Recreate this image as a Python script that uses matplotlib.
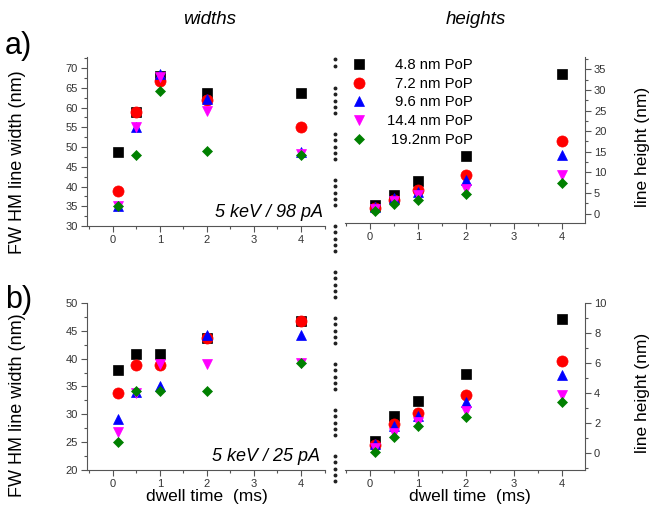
import numpy as np
import matplotlib
matplotlib.use('Agg')
import matplotlib.pyplot as plt
from matplotlib.ticker import MultipleLocator

plt.rcParams['font.family'] = ['Liberation Sans', 'DejaVu Sans']

# dwell time (ms)
dwell = [0.1, 0.5, 1, 2, 4]
labels = ['4.8 nm PoP', '7.2 nm PoP', '9.6 nm PoP', '14.4 nm PoP', '19.2nm PoP']

# a) 5 keV / 98 pA
w98_48 = [48.7, 58.8, 68.0, 63.6, 63.6]
w98_72 = [38.9, 58.8, 66.8, 62.0, 55.0]
w98_96 = [35.0, 55.0, 68.5, 62.2, 48.8]
w98_144 = [35.0, 55.0, 67.8, 59.2, 48.3]
w98_192 = [35.0, 48.0, 64.1, 49.0, 48.0]

h98_48 = [2.0, 4.4, 7.9, 14.0, 33.9]
h98_72 = [1.3, 3.3, 5.8, 9.4, 17.6]
h98_96 = [1.6, 3.8, 5.3, 8.1, 14.1]
h98_144 = [1.2, 3.0, 4.4, 5.9, 9.3]
h98_192 = [0.6, 2.2, 3.3, 4.7, 7.4]

# b) 5 keV / 25 pA
w25_48 = [38.0, 40.9, 40.9, 43.7, 46.8]
w25_72 = [33.8, 38.8, 38.8, 43.7, 46.7]
w25_96 = [29.1, 34.0, 35.0, 44.3, 44.2]
w25_144 = [26.9, 33.9, 39.1, 39.1, 39.2]
w25_192 = [25.0, 34.2, 34.2, 34.2, 39.2]

h25_48 = [0.85, 2.5, 3.5, 5.3, 8.95]
h25_72 = [0.55, 1.95, 2.7, 3.9, 6.15]
h25_96 = [0.6, 1.85, 2.5, 3.4, 5.2]
h25_144 = [0.35, 1.35, 2.1, 2.8, 3.9]
h25_192 = [0.07, 1.1, 1.8, 2.4, 3.4]

styles = [('s', 'black', 7), ('o', 'red', 8), ('^', 'blue', 7),
          ('v', 'magenta', 7), ('D', 'green', 5.5)]
tick_col = '#555555'

fig = plt.figure(figsize=(6.52, 5.14), dpi=100)
W, H = 652, 514


def px_axes(x0, y0, x1, y1):
    return fig.add_axes([x0 / W, 1 - y1 / H, (x1 - x0) / W, (y1 - y0) / H])


def px_text(x, y, s, **kw):
    fig.text(x / W, 1 - y / H, s, ha='center', va='center', **kw)


def style_axes(ax, side):
    for s in ax.spines.values():
        s.set_color(tick_col)
        s.set_linewidth(0.8)
    ax.spines['top'].set_visible(False)
    if side == 'left':
        ax.spines['right'].set_visible(False)
    else:
        ax.spines['left'].set_visible(False)
        ax.yaxis.tick_right()
    ax.tick_params(which='both', direction='out', colors=tick_col,
                   labelcolor='#333333', labelsize=8, width=0.8, pad=2.5)
    ax.tick_params(which='major', length=4)
    ax.tick_params(which='minor', length=2)
    ax.xaxis.set_major_locator(MultipleLocator(1))
    ax.xaxis.set_minor_locator(MultipleLocator(0.5))


def draw(ax, series):
    for ys, (m, c, ms), lab in zip(series, styles, labels):
        ax.plot(dwell, ys, linestyle='none', marker=m, color=c, markersize=ms,
                markeredgecolor=c, markeredgewidth=0.5, label=lab)


ax1 = px_axes(87, 57, 325, 226)
draw(ax1, [w98_48, w98_72, w98_96, w98_144, w98_192])
ax1.set_xlim(-0.55, 4.51)
ax1.set_ylim(30, 72.8)
style_axes(ax1, 'left')
ax1.yaxis.set_major_locator(MultipleLocator(5))
ax1.yaxis.set_minor_locator(MultipleLocator(2.5))
ax1.text(0.99, 0.03, '5 keV / 98 pA', transform=ax1.transAxes, ha='right',
         va='bottom', fontsize=13, style='italic')

ax2 = px_axes(345, 57, 585, 223)
draw(ax2, [h98_48, h98_72, h98_96, h98_144, h98_192])
ax2.set_xlim(-0.52, 4.48)
ax2.set_ylim(-2.3, 38)
style_axes(ax2, 'right')
ax2.yaxis.set_major_locator(MultipleLocator(5))
ax2.yaxis.set_minor_locator(MultipleLocator(2.5))
leg = ax2.legend(loc='upper left', bbox_to_anchor=(-0.03, 1.03), frameon=False,
                 fontsize=10.7, handletextpad=0.9, labelspacing=0.32,
                 borderaxespad=0)
# right-align legend texts like the original
fig.canvas.draw()
rend = fig.canvas.get_renderer()
widths = [t.get_window_extent(rend).width for t in leg.get_texts()]
for t, w in zip(leg.get_texts(), widths):
    t.set_position((max(widths) - w, 0))

ax3 = px_axes(87, 303, 325, 470)
draw(ax3, [w25_48, w25_72, w25_96, w25_144, w25_192])
ax3.set_xlim(-0.55, 4.51)
ax3.set_ylim(20, 50)
style_axes(ax3, 'left')
ax3.yaxis.set_major_locator(MultipleLocator(5))
ax3.yaxis.set_minor_locator(MultipleLocator(2.5))
ax3.text(0.98, 0.03, '5 keV / 25 pA', transform=ax3.transAxes, ha='right',
         va='bottom', fontsize=13, style='italic')

ax4 = px_axes(345, 303, 585, 470)
draw(ax4, [h25_48, h25_72, h25_96, h25_144, h25_192])
ax4.set_xlim(-0.52, 4.48)
ax4.set_ylim(-1.1, 10)
style_axes(ax4, 'right')
ax4.yaxis.set_major_locator(MultipleLocator(2))
ax4.yaxis.set_minor_locator(MultipleLocator(1))

# axis titles
px_text(18, 162, 'FW HM line width (nm)', fontsize=13, rotation=90)
px_text(18, 405, 'FW HM line width (nm)', fontsize=13, rotation=90)
px_text(642, 147, 'line height (nm)', fontsize=12.5, rotation=90)
px_text(642, 393, 'line height (nm)', fontsize=12.5, rotation=90)
px_text(207, 497, 'dwell time  (ms)', fontsize=12.5)
px_text(470, 497, 'dwell time  (ms)', fontsize=12.5)

# dotted separator between the columns
dots_y = [59, 66]
for start in np.arange(88, 500, 46):
    dots_y += list(start + 6.3 * np.arange(5))
dots_y = np.array([d for d in dots_y if d < 505])
fig.add_artist(plt.Line2D(np.full(len(dots_y), 335 / W), 1 - dots_y / H,
                          linestyle='none', marker='o', markersize=1.8,
                          color='#222222', transform=fig.transFigure))

fig.text(5 / W, 1 - 46 / H, 'a)', fontsize=22, va='center', ha='left')
fig.text(5 / W, 1 - 300 / H, 'b)', fontsize=22, va='center', ha='left')
px_text(210, 20, 'widths', fontsize=13.5, style='italic')
px_text(476, 19, 'heights', fontsize=13.5, style='italic')

fig.savefig('out.png', dpi=100)
